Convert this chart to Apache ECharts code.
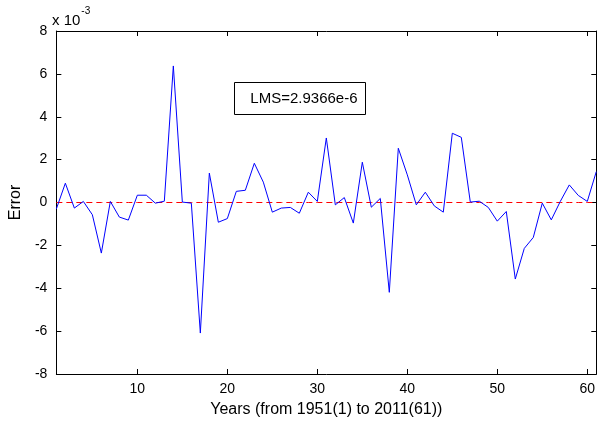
<!DOCTYPE html>
<html>
<head>
<meta charset="utf-8">
<script src="https://cdn.jsdelivr.net/npm/echarts@6/dist/echarts.min.js"></script>
<style>html,body{margin:0;padding:0;background:#fff;}#c{width:598px;height:423px;}</style>
</head>
<body>
<div id="c"></div>
<script>
// Years index 1..61 (1951..2011)
const years = Array.from({length: 61}, (_, i) => i + 1);
// Error values in units of 1e-3
const errorVals = [
  -0.30, 0.90, -0.26, 0.05, -0.57, -2.36, 0.05, -0.68, -0.82, 0.34,
  0.34, -0.03, 0.06, 6.37, 0.02, -0.03, -6.09, 1.37, -0.92, -0.75,
  0.52, 0.57, 1.83, 0.95, -0.45, -0.26, -0.23, -0.50, 0.48, 0.05,
  3.01, -0.11, 0.23, -0.96, 1.88, -0.22, 0.19, -4.19, 2.53, 1.29,
  -0.11, 0.48, -0.16, -0.45, 3.23, 3.04, 0.02, 0.06, -0.23, -0.87,
  -0.42, -3.57, -2.14, -1.63, -0.03, -0.81, 0.05, 0.82, 0.33, 0.05,
  1.44
];
const zeroVals = years.map(() => 0);
const xTicks = [10, 20, 30, 40, 50, 60];
const yTicks = [-8, -6, -4, -2, 0, 2, 4, 6, 8];
const lmsText = 'LMS=2.9366e-6';

const font = 'Liberation Sans, Arial, Helvetica, sans-serif';
const chart = echarts.init(document.getElementById('c'), null, {renderer: 'canvas'});
const axisLine = {show: true, onZero: false, lineStyle: {color: '#000', width: 1}};
chart.setOption({
  animation: false,
  backgroundColor: '#fff',
  grid: {left: 52, right: 1, top: 31, bottom: 49, containLabel: false},
  xAxis: [
    {
      type: 'value', min: 1, max: 61, position: 'bottom',
      axisLine: axisLine,
      axisTick: {show: true, inside: true, length: 5, customValues: xTicks, lineStyle: {color: '#000'}},
      axisLabel: {show: true, customValues: xTicks, color: '#000', fontSize: 14, fontFamily: font, margin: 8},
      splitLine: {show: false},
      name: 'Years (from 1951(1) to 2011(61))', nameLocation: 'middle', nameGap: 28,
      nameTextStyle: {color: '#000', fontSize: 16, fontFamily: font}
    },
    {
      type: 'value', min: 1, max: 61, position: 'top',
      axisLine: axisLine,
      axisTick: {show: true, inside: true, length: 5, customValues: xTicks, lineStyle: {color: '#000'}},
      axisLabel: {show: false},
      splitLine: {show: false}
    }
  ],
  yAxis: [
    {
      type: 'value', min: -8, max: 8, interval: 2, position: 'left',
      axisLine: axisLine,
      axisTick: {show: true, inside: true, length: 5, customValues: yTicks, lineStyle: {color: '#000'}},
      axisLabel: {color: '#000', fontSize: 14, fontFamily: font, margin: 9, customValues: yTicks},
      splitLine: {show: false},
      name: 'Error', nameLocation: 'middle', nameGap: 30, nameRotate: 90,
      nameTextStyle: {color: '#000', fontSize: 16, fontFamily: font}
    },
    {
      type: 'value', min: -8, max: 8, interval: 2, position: 'right',
      axisLine: axisLine,
      axisTick: {show: true, inside: true, length: 5, customValues: yTicks, lineStyle: {color: '#000'}},
      axisLabel: {show: false},
      splitLine: {show: false}
    }
  ],
  series: [
    {
      type: 'line', xAxisIndex: 0, yAxisIndex: 0,
      data: years.map((x, i) => [x, zeroVals[i]]),
      showSymbol: false, symbol: 'none',
      lineStyle: {color: '#ff0000', width: 1, type: [6, 4]},
      z: 2
    },
    {
      type: 'line', xAxisIndex: 0, yAxisIndex: 0,
      data: years.map((x, i) => [x, errorVals[i]]),
      showSymbol: false, symbol: 'none',
      lineStyle: {color: '#0000ff', width: 1},
      z: 3
    }
  ],
  graphic: [
    {
      type: 'text', left: 52, top: 6,
      style: {
        text: '{a|x 10}{b|-3}',
        rich: {
          a: {fontSize: 15, fontFamily: font, fill: '#000', verticalAlign: 'bottom', padding: [7, 0, 0, 0]},
          b: {fontSize: 10, fontFamily: font, fill: '#000', verticalAlign: 'top', padding: [0, 0, 9, 1]}
        }
      }
    },
    {
      type: 'group', left: 234, top: 82,
      children: [
        {type: 'rect', shape: {x: 0, y: 0, width: 131, height: 32}, style: {fill: '#fff', stroke: '#000', lineWidth: 1}},
        {type: 'text', style: {text: lmsText, x: 123, y: 16, align: 'right', verticalAlign: 'middle', fontSize: 15, fontFamily: font, fill: '#000'}}
      ]
    }
  ]
});
</script>
</body>
</html>
